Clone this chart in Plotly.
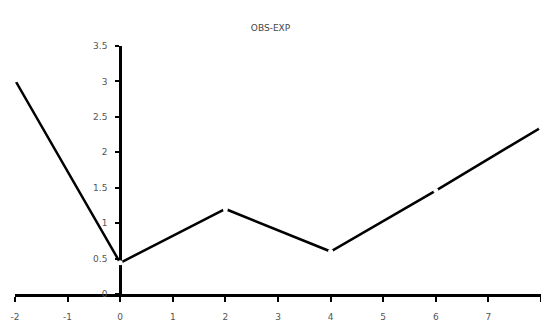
import plotly.graph_objects as go

x_vals = [-2, 0, 2, 4, 6, 8]
y_vals = [3.02, 0.44, 1.2, 0.6, 1.46, 2.35]
x_ticks = [-2, -1, 0, 1, 2, 3, 4, 5, 6, 7, 8]
y_ticks = [0, 0.5, 1, 1.5, 2, 2.5, 3, 3.5]
title_text = "OBS-EXP"

fig = go.Figure()
fig.add_trace(go.Scatter(
    x=x_vals, y=y_vals, mode="lines+markers",
    line=dict(color="black", width=2.5),
    marker=dict(color="white", size=5, line=dict(width=0)),
    cliponaxis=False, showlegend=False,
))

font_tick = dict(family="DejaVu Sans, Verdana, sans-serif", size=9, color="#555")

fig.update_layout(
    width=541, height=324,
    margin=dict(l=15, r=0, t=46, b=30),
    paper_bgcolor="white", plot_bgcolor="white",
    title=dict(text=title_text, x=0.5, xanchor="center", y=1 - 28 / 324,
               yanchor="middle", yref="container",
               font=dict(family="DejaVu Sans, Verdana, sans-serif", size=9, color="#444")),
    xaxis=dict(range=[-2, 8], tickvals=x_ticks, ticktext=[str(v) for v in x_ticks],
               showgrid=False, zeroline=False, showline=True, linecolor="black", linewidth=3,
               ticks="outside", ticklen=5, tickwidth=2, tickcolor="black",
               ticklabelstandoff=7,
               tickfont=font_tick, layer="below traces", anchor="y"),
    yaxis=dict(range=[0, 3.5], tickvals=y_ticks, ticktext=[str(v) for v in y_ticks],
               showgrid=False, zeroline=False, showline=True, linecolor="black", linewidth=3,
               ticks="outside", ticklen=4, tickwidth=2, tickcolor="black",
               ticklabelstandoff=6,
               tickfont=font_tick, layer="below traces", anchor="free", position=0.2),
)

fig.write_html("out.html")
